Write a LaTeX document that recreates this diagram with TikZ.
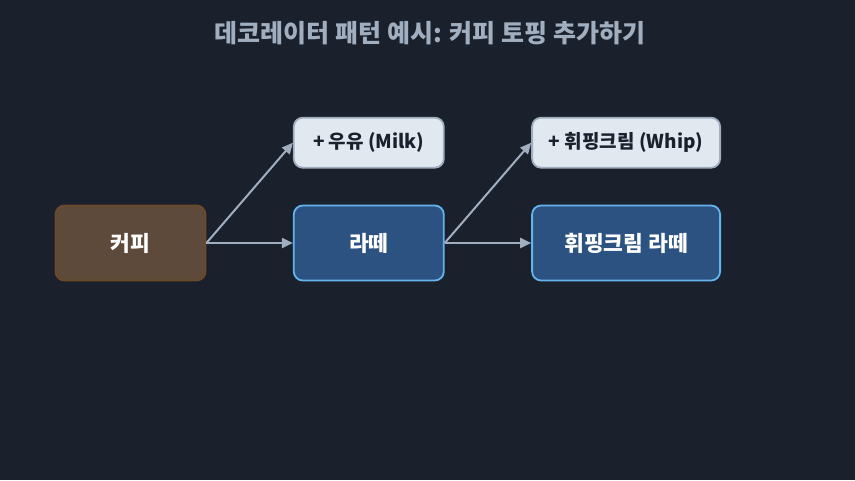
\documentclass[tikz,border=0pt]{standalone}
\usepackage{fontspec}
\setmainfont{Noto Sans CJK KR}
\usetikzlibrary{arrows.meta, positioning}
\definecolor{bgdark}{HTML}{1A202C}
\definecolor{coffeebrown}{HTML}{5D4A3A}
\definecolor{coffeeedge}{HTML}{6B4A28}
\definecolor{lattefill}{HTML}{2C5282}
\definecolor{latteedge}{HTML}{63B3ED}
\definecolor{toppingfill}{HTML}{E2E8F0}
\definecolor{toppingedge}{HTML}{A0AEC0}
\definecolor{arrowgray}{HTML}{A0AEC0}

\begin{document}
\begin{tikzpicture}[
  node distance=86.5pt,
  base/.style={rectangle, rounded corners=9pt, line width=1.8pt, align=center,
               minimum height=75pt, font=\fontsize{21.5}{25}\selectfont\bfseries},
  coffee/.style={base, draw=coffeeedge, fill=coffeebrown, text=white, minimum width=150pt},
  latte/.style={base, draw=latteedge, fill=lattefill, text=white},
  topping/.style={base, draw=toppingedge, fill=toppingfill, text=bgdark,
                  minimum height=50pt, font=\fontsize{19}{22}\selectfont\bfseries},
  arr/.style={-{Triangle[length=11pt, width=10pt]}, line width=2pt, draw=arrowgray}
]
\fill[bgdark] (0,0) rectangle (855pt,-480pt);
\useasboundingbox (0,0) rectangle (855pt,-480pt);

\node[font=\fontsize{25}{28}\selectfont\bfseries, text=arrowgray] (title) at (430pt,-33pt)
  {데코레이터 패턴 예시: 커피 토핑 추가하기};

\node[coffee] (coffee) at (130.5pt,-243pt) {커피};
\node[latte, minimum width=150pt, right=of coffee] (latte) {라떼};
\node[latte, minimum width=188pt, right=of latte] (whiplatte) {휘핑크림 라떼};
\node[topping, minimum width=150pt, above=36pt of latte] (milk) {+ 우유 (Milk)};
\node[topping, minimum width=188pt, above=36pt of whiplatte] (whip) {+ 휘핑크림 (Whip)};

\draw[arr] (coffee.east) -- (milk.west);
\draw[arr] (coffee.east) -- (latte.west);
\draw[arr] (latte.east) -- (whip.west);
\draw[arr] (latte.east) -- (whiplatte.west);

\end{tikzpicture}
\end{document}
